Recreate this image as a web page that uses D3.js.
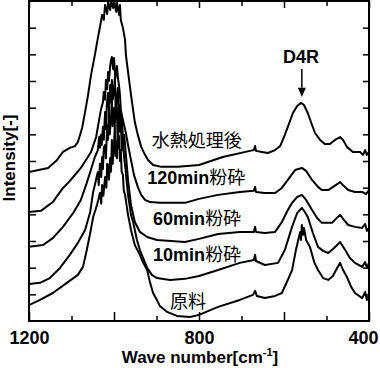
<!DOCTYPE html>
<html>
<head>
<meta charset="utf-8">
<script src="https://cdn.jsdelivr.net/npm/d3@7"></script>
<style>
  body { margin: 0; background: #fff; }
  svg { display: block; }
</style>
</head>
<body>
<div id="chart"></div>
<script>
// spectra: [wave number (cm-1), intensity (offset, a.u.)]
var hydrothermal = [[1200,5.59],[1155,5.74],[1134,6.04],[1120,6.34],[1104,6.49],[1092,6.56],[1085,6.71],[1075,7.24],
  [1068,7.84],[1061,8.48],[1054,9.23],[1045,9.98],[1038,10.61],[1033,11.03],[1028,11.48],[1024,11.29],[1021,11.85],
  [1016,11.51],[1014,11.96],[1009,11.66],[1007,12.0],[1002,11.74],[1000,12.0],[995,11.59],[993,11.93],[988,11.48],
  [986,11.85],[984,11.29],[979,10.99],[974,10.54],[972,9.98],[967,9.34],[960,8.48],[955,7.91],[951,7.46],[944,6.98],
  [936,6.53],[927,6.23],[920,6.04],[908,5.85],[889,5.78],[849,5.78],[800,5.85],[744,6.15],[680,6.38],[671,6.41],
  [668,6.56],[666,6.38],[652,6.34],[638,6.30],[621,6.41],[609,6.56],[598,6.98],[591,7.28],[579,7.80],[569,8.06],
  [560,8.18],[553,8.10],[544,7.80],[534,7.35],[527,7.05],[515,6.79],[504,6.64],[492,6.64],[480,6.79],[468,6.90],
  [461,6.79],[452,6.53],[438,6.34],[421,6.34],[414,6.23],[409,6.41],[405,6.23],[400,6.34]];

var mill120 = [[1200,4.09],[1172,4.13],[1144,4.46],[1120,4.99],[1108,5.18],[1096,5.40],[1078,5.74],[1066,6.04],
  [1054,6.34],[1042,6.90],[1035,7.54],[1031,7.91],[1026,8.2],[1024,8.59],[1021,8.3],[1019,9.04],[1016,8.7],
  [1014,9.34],[1012,9.0],[1009,9.56],[1007,9.79],[1005,9.90],[1002,9.44],[1000,9.86],[997,9.1],[995,9.34],[993,9.56],
  [991,9.15],[988,8.8],[986,8.48],[984,7.91],[979,7.54],[972,7.05],[967,6.60],[960,6.04],[953,5.48],[944,5.03],
  [936,4.73],[927,4.54],[915,4.46],[892,4.43],[833,4.43],[800,4.58],[755,4.73],[704,4.84],[671,4.88],[668,5.03],
  [666,4.84],[645,4.80],[621,4.80],[605,4.99],[591,5.29],[574,5.66],[558,5.74],[548,5.63],[534,5.29],[520,5.03],
  [511,4.91],[496,4.91],[482,5.06],[468,5.21],[459,5.06],[449,4.91],[433,4.84],[416,4.84],[407,4.76],[400,4.91]];

var mill60 = [[1200,2.78],[1167,2.85],[1144,3.11],[1120,3.53],[1108,3.79],[1096,4.05],[1078,4.54],[1064,5.18],
  [1056,5.59],[1045,6.15],[1038,6.41],[1035,6.9],[1033,6.5],[1031,6.98],[1029,6.6],[1026,7.28],[1024,6.8],
  [1021,7.84],[1019,7.2],[1017,8.1],[1014,8.55],[1012,7.9],[1009,8.85],[1007,8.2],[1005,9.04],[1003,8.3],
  [1000,8.66],[998,9.11],[996,8.0],[993,8.36],[991,8.74],[989,7.7],[986,8.10],[984,7.3],[981,7.61],[979,6.8],
  [976,6.98],[972,6.23],[967,5.29],[960,4.35],[951,3.71],[939,3.34],[922,3.15],[899,3.04],[833,2.96],[800,3.08],
  [755,3.26],[704,3.34],[671,3.34],[668,3.53],[666,3.34],[645,3.30],[621,3.34],[605,3.71],[591,4.16],[581,4.43],
  [569,4.65],[558,4.73],[548,4.54],[534,4.16],[522,3.86],[511,3.68],[487,3.68],[478,3.83],[468,3.98],[459,3.79],
  [449,3.60],[433,3.53],[416,3.49],[409,3.64],[405,3.38],[400,3.49]];

var mill10 = [[1200,1.39],[1174,1.43],[1151,1.61],[1127,1.99],[1104,2.48],[1085,2.93],[1068,3.41],[1056,4.09],
  [1049,4.84],[1038,5.59],[1036,5.1],[1033,5.9],[1030,5.4],[1028,6.15],[1026,5.7],[1024,6.5],[1021,6.60],
  [1019,6.1],[1016,7.35],[1014,6.8],[1012,7.91],[1010,7.0],[1007,7.61],[1005,8.29],[1003,7.3],[1000,7.99],
  [998,7.4],[995,8.36],[993,7.73],[991,7.0],[988,8.10],[986,7.1],[984,7.35],[981,6.4],[979,6.79],[976,6.1],
  [974,5.85],[967,4.73],[960,3.98],[955,3.71],[946,3.04],[939,2.66],[922,1.99],[911,1.73],[899,1.61],[868,1.54],
  [833,1.58],[800,1.69],[755,1.91],[704,2.18],[671,2.29],[668,2.48],[666,2.25],[645,2.10],[614,2.18],[598,2.66],
  [581,3.53],[569,4.05],[558,4.24],[551,4.09],[544,3.90],[532,3.30],[520,2.78],[508,2.63],[496,2.55],[482,2.74],
  [468,2.96],[456,2.66],[445,2.36],[433,2.18],[416,2.03],[409,2.21],[405,1.99],[400,2.18]];

var raw = [[1200,0.60],[1174,0.79],[1144,1.05],[1111,1.43],[1085,1.73],[1073,2.03],[1064,2.66],[1056,3.30],
  [1049,3.90],[1040,4.35],[1033,4.80],[1030,4.4],[1028,5.1],[1025,4.7],[1021,5.40],[1018,5.0],[1016,5.9],
  [1014,5.85],[1012,5.3],[1009,6.11],[1007,5.6],[1005,6.79],[1003,5.9],[1002,6.34],[1000,6.6],[998,7.35],
  [997,6.2],[995,6.71],[993,6.1],[991,7.54],[989,6.5],[988,6.94],[986,6.0],[984,6.41],[982,5.6],[979,5.48],
  [977,4.9],[974,4.73],[967,3.98],[960,3.41],[951,2.85],[939,2.48],[932,2.21],[922,1.91],[915,1.43],[908,1.05],
  [899,0.79],[892,0.56],[875,0.34],[852,0.19],[821,0.15],[800,0.23],[755,0.53],[704,0.79],[673,0.98],[668,1.13],
  [664,0.94],[645,0.86],[621,0.94],[605,1.05],[591,1.54],[581,1.91],[572,2.66],[562,3.34],[560,3.04],[558,3.60],
  [555,3.23],[553,3.49],[548,3.04],[539,2.78],[529,2.21],[520,1.91],[508,1.61],[496,1.54],[485,1.69],[475,1.99],
  [468,2.18],[461,1.91],[452,1.65],[442,1.28],[433,1.05],[416,0.86],[409,1.09],[405,0.79],[400,0.98]];

var series = [hydrothermal, mill120, mill60, mill10, raw];

// tick values
var majorTicks = [1200, 1000, 800, 600, 400];
var minorTicks = [1100, 900, 700, 500];
var labelTicks = [1200, 800, 400];
var yTicks = [1, 2, 3, 4, 5, 6, 7, 8, 9, 10, 11];

// series labels: latin part + japanese part
var labelNum = ["", "120min", "60min", "10min", ""];
var labelJp = ["水熱処理後", "粉砕", "粉砕", "粉砕", "原料"];
// label anchor (wave number, intensity)
var labelPos = [[911, 6.53], [922, 5.14], [908, 3.60], [908, 2.25], [868, 0.49]];

var latin = "'Liberation Sans', Arial, sans-serif";
var jp = "'Noto Sans CJK JP', sans-serif";

// Graph dimension
var margin = {top: 1, right: 11, bottom: 47, left: 29},
    width = 380 - margin.left - margin.right,
    height = 368 - margin.top - margin.bottom;

var svg = d3.select("#chart")
  .append("svg")
    .attr("width", 380)
    .attr("height", 368)
  .append("g")
    .attr("transform", "translate(" + margin.left + "," + margin.top + ")");

var x = d3.scaleLinear().domain([1200, 400]).range([0, width]);
var y = d3.scaleLinear().domain([0, 12]).range([height, 0]);

svg.append("clipPath").attr("id", "clip")
  .append("rect").attr("x", 0).attr("y", -1).attr("width", width).attr("height", height + 1);

// spectra
var line = d3.line()
  .x(function(d) { return x(d[0]); })
  .y(function(d) { return y(d[1]); });

svg.append("g").attr("clip-path", "url(#clip)")
  .selectAll("path")
  .data(series)
  .enter()
  .append("path")
    .attr("d", line)
    .attr("fill", "none")
    .attr("stroke", "#000")
    .attr("stroke-width", 2)
    .attr("stroke-linejoin", "round");

// axes (ticks point inward)
function styleAxis(g) {
  g.select(".domain").remove();
  g.selectAll("line").attr("stroke", "#000").attr("stroke-width", 1.5);
}

svg.append("g")
  .attr("transform", "translate(0," + height + ")")
  .call(d3.axisBottom(x).tickValues(majorTicks).tickSize(-9).tickSizeOuter(0)
    .tickFormat(function(d) { return labelTicks.indexOf(d) >= 0 ? d : ""; }))
  .call(styleAxis)
  .call(function(g) {
    g.selectAll("text")
      .attr("y", 23).attr("dy", 0)
      .attr("dx", function(d) { return d === 400 ? -6 : 0; })
      .style("font-family", latin).style("font-size", "18px").style("font-weight", "bold")
      .attr("fill", "#000");
  });

svg.append("g")
  .attr("transform", "translate(0," + height + ")")
  .call(d3.axisBottom(x).tickValues(minorTicks).tickSize(-5).tickSizeOuter(0).tickFormat(""))
  .call(styleAxis);

svg.append("g")
  .call(d3.axisTop(x).tickValues(majorTicks).tickSize(-7).tickSizeOuter(0).tickFormat(""))
  .call(styleAxis);
svg.append("g")
  .call(d3.axisTop(x).tickValues(minorTicks).tickSize(-5).tickSizeOuter(0).tickFormat(""))
  .call(styleAxis);

svg.append("g")
  .call(d3.axisLeft(y).tickValues(yTicks).tickSize(-7).tickSizeOuter(0).tickFormat(""))
  .call(styleAxis);
svg.append("g")
  .attr("transform", "translate(" + width + ",0)")
  .call(d3.axisRight(y).tickValues(yTicks).tickSize(-6).tickSizeOuter(0).tickFormat(""))
  .call(styleAxis);

// frame
svg.append("rect")
  .attr("x", 0).attr("y", 0)
  .attr("width", width).attr("height", height)
  .attr("fill", "none").attr("stroke", "#000").attr("stroke-width", 2);

// series labels
var lab = svg.selectAll(".lab")
  .data(labelPos)
  .enter()
  .append("text")
    .attr("class", "lab")
    .attr("x", function(d) { return x(d[0]); })
    .attr("y", function(d) { return y(d[1]); })
    .style("font-size", "18px")
    .attr("fill", "#000");
lab.append("tspan")
  .style("font-family", latin).style("font-weight", "bold")
  .text(function(d, i) { return labelNum[i]; });
lab.append("tspan")
  .style("font-family", jp).style("font-weight", "normal")
  .text(function(d, i) { return labelJp[i]; });

// D4R marker
svg.append("text")
  .attr("x", x(560)).attr("y", y(9.68))
  .attr("text-anchor", "middle")
  .style("font-family", latin).style("font-size", "18px").style("font-weight", "bold")
  .text("D4R");
svg.append("line")
  .attr("x1", x(558)).attr("x2", x(558))
  .attr("y1", y(9.45)).attr("y2", y(8.75))
  .attr("stroke", "#000").attr("stroke-width", 1.5);
svg.append("path")
  .attr("d", "M" + (x(558) - 4) + "," + y(8.75) + "L" + (x(558) + 4) + "," + y(8.75) + "L" + x(558) + "," + y(8.4) + "Z")
  .attr("fill", "#000");

// axis titles
var xt = svg.append("text")
  .attr("x", width / 2 + 1).attr("y", height + 42)
  .attr("text-anchor", "middle")
  .style("font-family", latin).style("font-size", "17px").style("font-weight", "bold");
xt.append("tspan").text("Wave number[cm");
xt.append("tspan").attr("dy", -7).style("font-size", "11px").text("-1");
xt.append("tspan").attr("dy", 7).text("]");

svg.append("text")
  .attr("transform", "translate(" + (15 - margin.left) + "," + 157 + ") rotate(-90)")
  .attr("text-anchor", "middle")
  .style("font-family", latin).style("font-size", "17px").style("font-weight", "bold")
  .text("Intensity[-]");
</script>
</body>
</html>
